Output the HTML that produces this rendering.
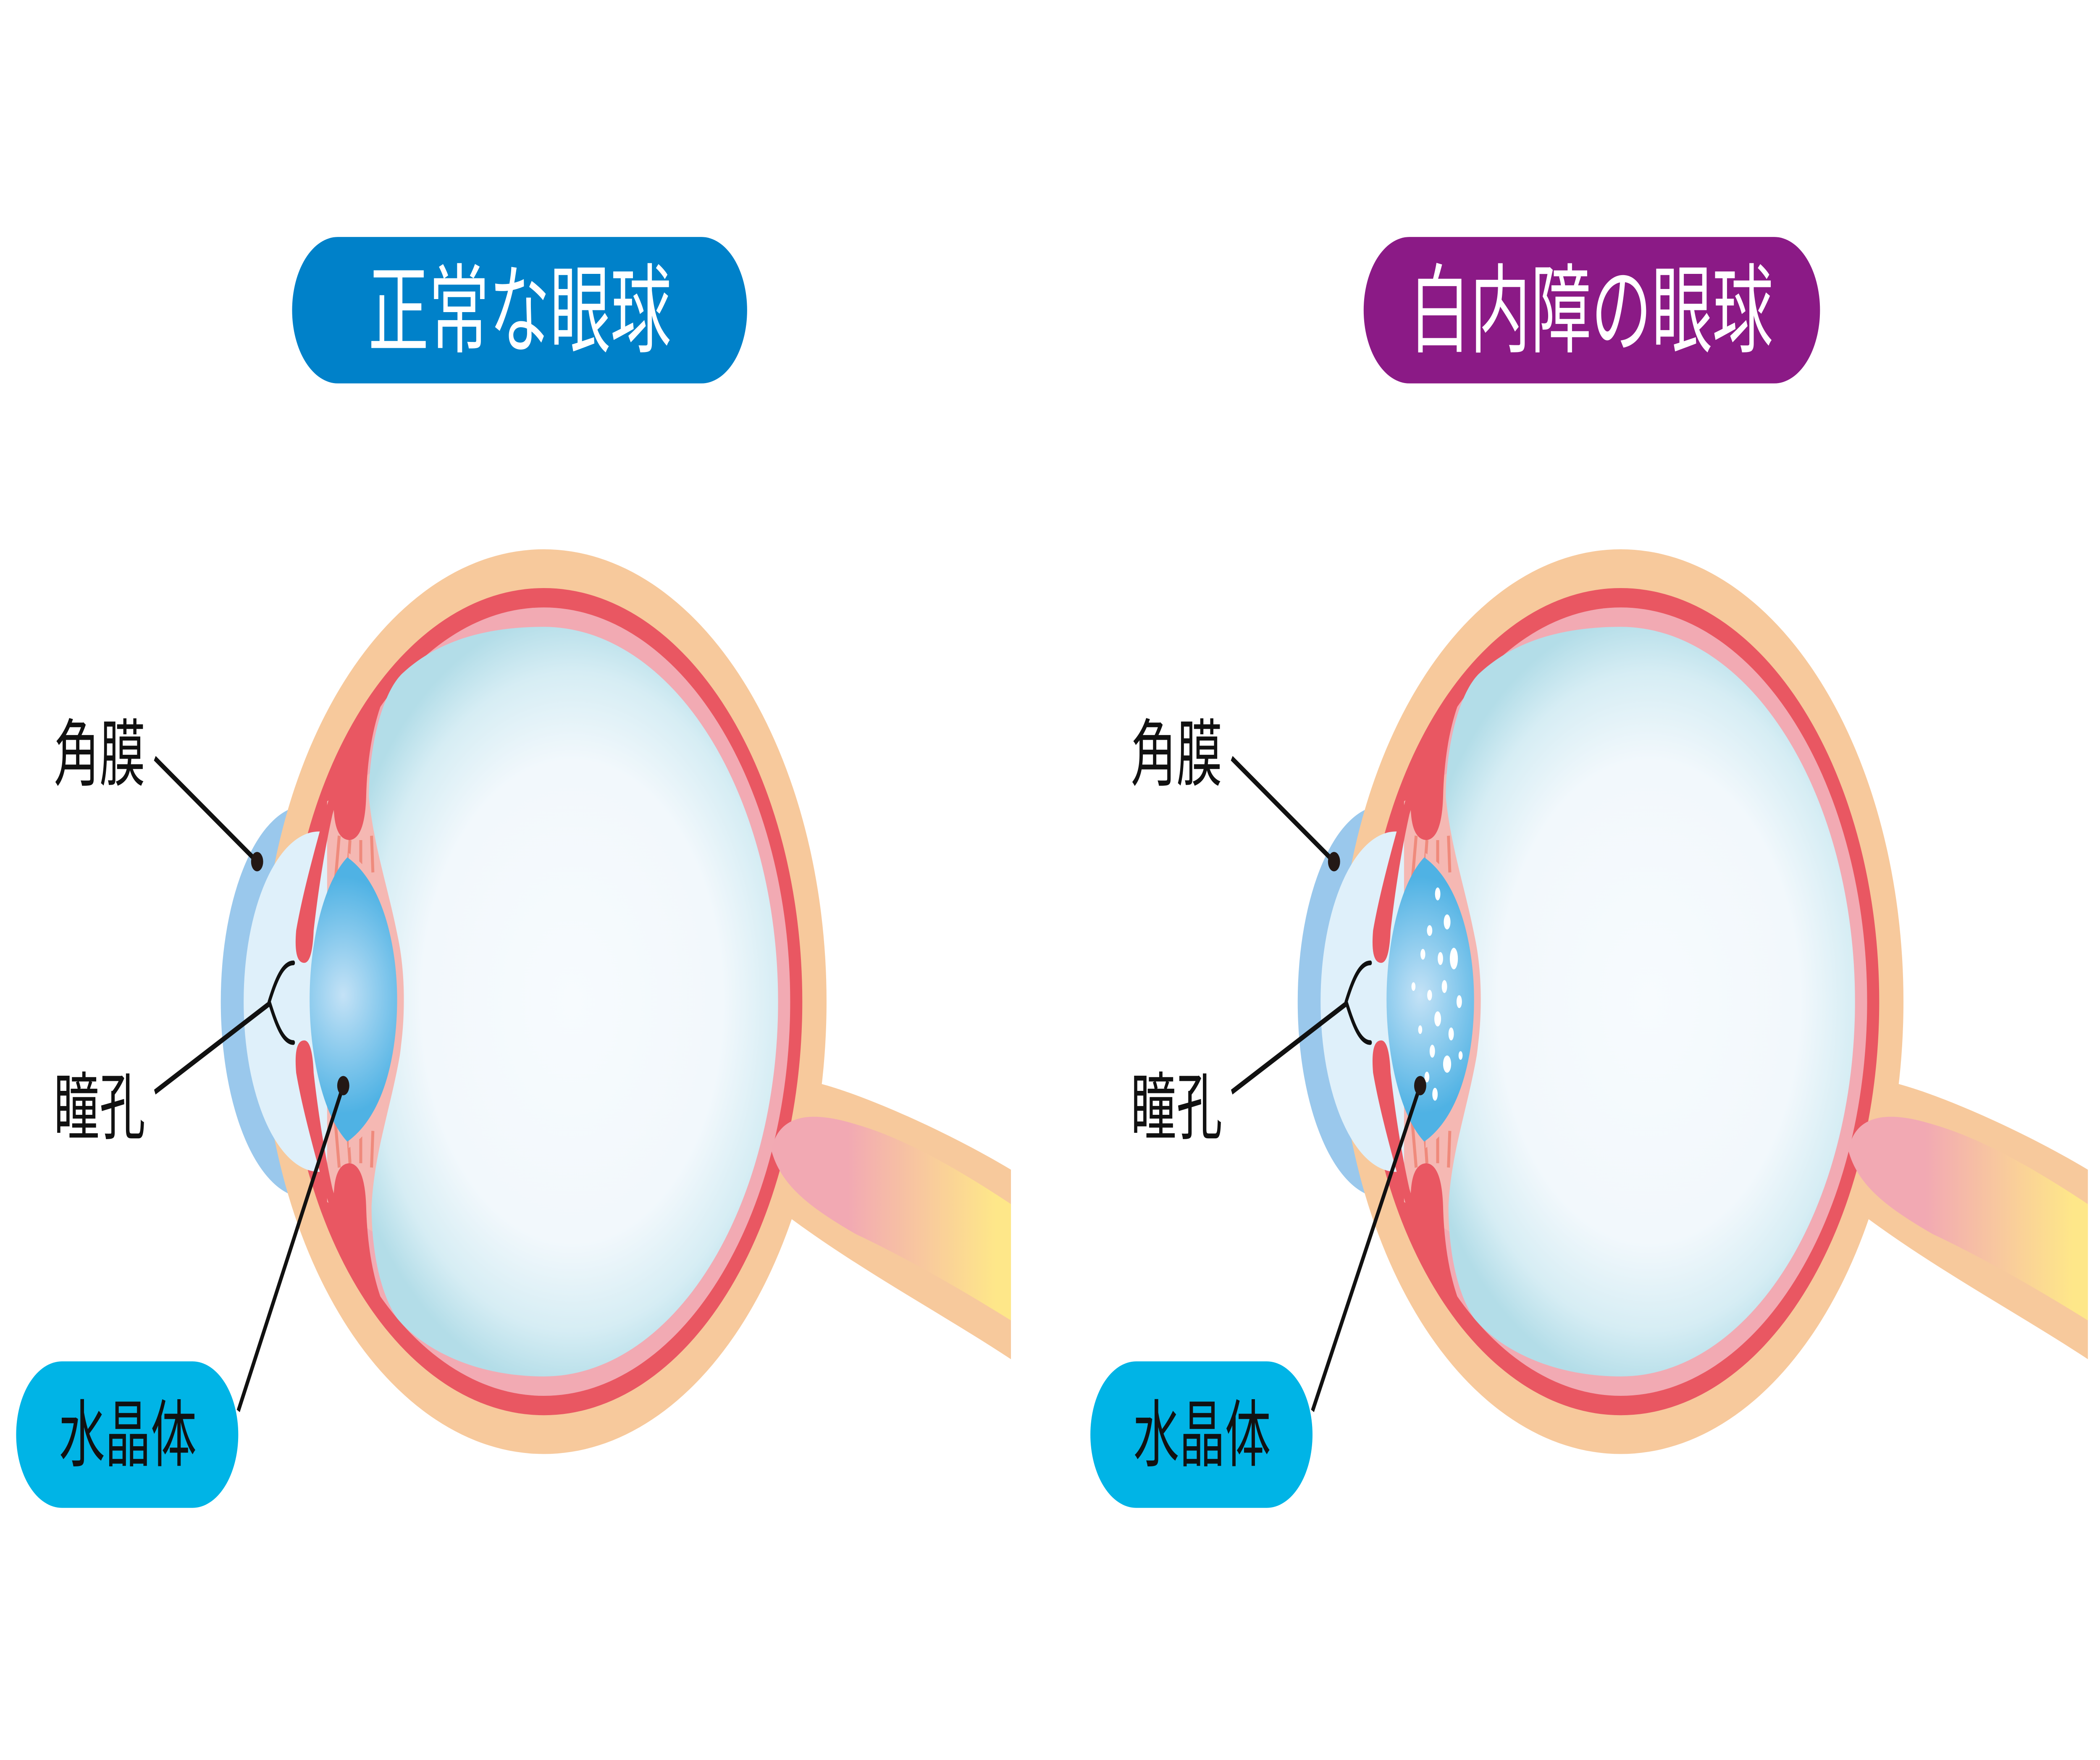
<!DOCTYPE html>
<html><head><meta charset="utf-8"><style>
html,body{margin:0;padding:0;background:#fff;width:100vw;height:100vh;overflow:hidden;}
svg{display:block;width:100vw;height:100vh;}
text{font-family:"Liberation Sans","Noto Sans CJK JP",sans-serif;}
</style></head><body>
<svg viewBox="0 0 1560 817.06" preserveAspectRatio="none" xmlns="http://www.w3.org/2000/svg">
<defs>
<radialGradient id="vit" gradientUnits="userSpaceOnUse" cx="425" cy="465" r="180">
<stop offset="0" stop-color="#f7fbfe"/><stop offset="0.62" stop-color="#f2f8fc"/><stop offset="0.85" stop-color="#d6edf4"/><stop offset="1" stop-color="#b3dde8"/>
</radialGradient>
<radialGradient id="lens" gradientUnits="userSpaceOnUse" cx="255" cy="462" r="55">
<stop offset="0" stop-color="#c4e2f6"/><stop offset="1" stop-color="#4fb2e4"/>
</radialGradient>
<linearGradient id="nerve" gradientUnits="userSpaceOnUse" x1="630" y1="0" x2="740" y2="0">
<stop offset="0" stop-color="#f2a9b3"/><stop offset="1" stop-color="#fee789"/>
</linearGradient>
<g id="eye">
<ellipse cx="227" cy="465" rx="63" ry="91" fill="#9ac8ec"/>
<path d="M600,450 L609,503 C640,508 700,524 751,543 L751,631 C700,610 640,590 586,565 L560,560 Z" fill="#f7c99c"/>
<circle cx="404" cy="465" r="210" fill="#f7c99c"/>
<circle cx="404" cy="465" r="192" fill="#e95762"/>
<circle cx="404" cy="465" r="183" fill="#f2aab3"/>
<ellipse cx="237" cy="465" rx="56" ry="79" fill="#dff0fa"/>
<path d="M243,372 L292,352 L302,465 L292,578 L243,558 Z" fill="#f5b8b3"/>
<g stroke="#ef8a7c" stroke-width="2.2">
<line x1="252" y1="388" x2="249" y2="410"/><line x1="260" y1="390" x2="258" y2="408"/><line x1="268" y1="390" x2="268" y2="405"/><line x1="276" y1="388" x2="277" y2="405"/>
<line x1="252" y1="542" x2="249" y2="520"/><line x1="260" y1="540" x2="258" y2="522"/><line x1="268" y1="540" x2="268" y2="525"/><line x1="276" y1="542" x2="277" y2="525"/>
</g>
<path d="M404,291 A174 174 0 0 1 404,639 C350,639 312,625 295,612 C282,600 276,580 276,560 C278,535 290,515 297,490 C300,478 300,452 297,440 C290,415 278,395 274,370 C274,345 285,320 300,312 C330,295 370,291 404,291 Z" fill="url(#vit)"/>
<path d="M259,396 C292,410 300,440 300,464 C300,490 292,518 259,533 Z" fill="#f5b8b3"/>
<path d="M258,398 C285,410 295,440 295,464 C295,490 285,518 258,530 C240,518 230,490 230,464 C230,438 240,410 258,398 Z" fill="url(#lens)"/>
<path id="rb" d="M318,300 C290,310 265,328 254,350 C241,378 226,410 220,432 Q218,447 226,447 Q232,447 233,432 C237,410 242,392 247,378 L248,376 Q249,390 260,390 Q271,389 272,370 C273,345 281,324 297,310 L335,292 Z" fill="#e95762"/>
<use href="#rb" transform="matrix(1 0 0 -1 0 930)"/>
<path d="M573,534 C578,518 600,515 636,522 C670,528 710,542 751,559 L751,613 C710,597 670,583 636,573 C600,560 580,550 573,534 Z" fill="url(#nerve)"/>
<path d="M218,447 C210,447 205,455 200,465 C205,475 210,484 218,484" fill="none" stroke="#111" stroke-width="2.2" stroke-linecap="round"/>
</g>
</defs>

<use href="#eye"/>
<use href="#eye" transform="translate(800,0)"/>

<g fill="#ffffff">
<ellipse cx="1068" cy="415" rx="2" ry="3"/><ellipse cx="1075" cy="428" rx="2.5" ry="3.5"/><ellipse cx="1062" cy="432" rx="2" ry="2.5"/>
<ellipse cx="1080" cy="445" rx="3" ry="5"/><ellipse cx="1070" cy="445" rx="2" ry="3"/><ellipse cx="1057" cy="443" rx="1.8" ry="2.5"/>
<ellipse cx="1073" cy="458" rx="2" ry="3"/><ellipse cx="1084" cy="465" rx="2" ry="3"/><ellipse cx="1062" cy="462" rx="1.8" ry="2.5"/>
<ellipse cx="1068" cy="473" rx="2.5" ry="3.5"/><ellipse cx="1078" cy="480" rx="2" ry="3"/><ellipse cx="1055" cy="478" rx="1.5" ry="2"/>
<ellipse cx="1064" cy="488" rx="2" ry="3"/><ellipse cx="1075" cy="494" rx="3" ry="4"/><ellipse cx="1060" cy="500" rx="1.8" ry="2.5"/>
<ellipse cx="1066" cy="508" rx="2" ry="3"/><ellipse cx="1085" cy="490" rx="1.5" ry="2"/><ellipse cx="1050" cy="458" rx="1.5" ry="2"/>
</g>

<rect x="217" y="110" width="338" height="68" rx="34" fill="#0081c9"/>
<text x="386" y="160" font-size="45" fill="#fff" text-anchor="middle">正常な眼球</text>
<rect x="1013" y="110" width="339" height="68" rx="34" fill="#8b1a86"/>
<text x="1182" y="160" font-size="45" fill="#fff" text-anchor="middle">白内障の眼球</text>

<g stroke="#111" stroke-width="2.5" fill="none">
<line x1="115" y1="352" x2="191" y2="400"/>
<line x1="115" y1="507" x2="200" y2="466"/>
<line x1="177" y1="655" x2="255" y2="504"/>
<line x1="915" y1="352" x2="991" y2="400"/>
<line x1="915" y1="507" x2="1000" y2="466"/>
<line x1="975" y1="655" x2="1055" y2="504"/>
</g>
<g fill="#231815">
<circle cx="191" cy="400" r="4.5"/><circle cx="255" cy="504" r="4.5"/>
<circle cx="991" cy="400" r="4.5"/><circle cx="1055" cy="504" r="4.5"/>
</g>
<text x="40" y="362" font-size="34" fill="#111">角膜</text>
<text x="40" y="526" font-size="34" fill="#111">瞳孔</text>
<rect x="12" y="632" width="165" height="68" rx="34" fill="#00b4e6"/>
<text x="95" y="678" font-size="34" fill="#111" text-anchor="middle">水晶体</text>

<text x="840" y="362" font-size="34" fill="#111">角膜</text>
<text x="840" y="526" font-size="34" fill="#111">瞳孔</text>
<rect x="810" y="632" width="165" height="68" rx="34" fill="#00b4e6"/>
<text x="893" y="678" font-size="34" fill="#111" text-anchor="middle">水晶体</text>
</svg>
</body></html>
